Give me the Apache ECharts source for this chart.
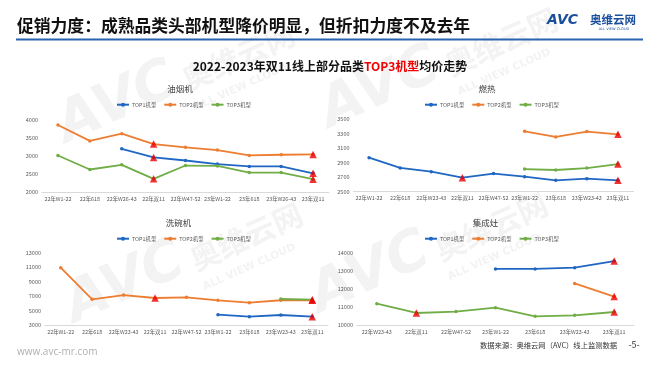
<!DOCTYPE html>
<html><head><meta charset="utf-8">
<script src="https://cdn.jsdelivr.net/npm/echarts@6/dist/echarts.min.js"></script>
<style>html,body{margin:0;padding:0;background:#fff}#c{width:660px;height:372px}</style>
</head><body><div id="c"></div>
<script>
const seriesNames = ['TOP1机型', 'TOP2机型', 'TOP3机型'];
const panelTitles = ['油烟机', '燃热', '洗碗机', '集成灶'];

const catsHood = ['22年W1-22','22年618','22年W26-43','22年双11','22年W47-52','23年W1-22','23年618','23年W26-43','23年双11'];
const catsHeater = ['22年W1-22','22年618','22年W23-43','22年双11','22年W47-52','23年W1-22','23年618','23年W23-43','23年双11'];
const catsDish = ['22年W1-22','22年618','22年W23-43','22年双11','22年W47-52','23年W1-22','23年618','23年W23-43','23年双11'];
const catsStove = ['22年W23-43','22年双11','22年W47-52','23年W1-22','23年618','23年W23-43','23年双11'];

const hoodTop1 = [null, null, 3200, 2960, 2875, 2775, 2710, 2710, 2520];
const hoodTop2 = [3860, 3420, 3620, 3330, 3240, 3165, 3015, 3035, 3045];
const hoodTop3 = [3015, 2625, 2755, 2365, 2735, 2725, 2540, 2540, 2355];
const hoodTicks = [2000, 2500, 3000, 3500, 4000];
const hoodMarks = [[3, 8], [3, 8], [3, 8]];

const heaterTop1 = [2970, 2828, 2776, 2694, 2750, 2707, 2657, 2680, 2657];
const heaterTop2 = [null, null, null, null, null, 3334, 3256, 3330, 3293];
const heaterTop3 = [null, null, null, null, null, 2813, 2800, 2827, 2882];
const heaterTicks = [2500, 2700, 2900, 3100, 3300, 3500];
const heaterMarks = [[3, 8], [8], [8]];

const dishTop1 = [null, null, null, null, null, 4470, 4190, 4420, 4190];
const dishTop2 = [10940, 6580, 7170, 6760, 6850, 6440, 6120, 6450, 6450];
const dishTop3 = [null, null, null, null, null, null, null, 6620, 6530];
const dishTicks = [3000, 5000, 7000, 9000, 11000, 13000];
const dishMarks = [[8], [3, 8], [8]];

const stoveTop1 = [null, null, null, 13100, 13100, 13170, 13540];
const stoveTop2 = [null, null, null, null, null, 12300, 11570];
const stoveTop3 = [11180, 10665, 10740, 10960, 10480, 10535, 10720];
const stoveTicks = [10000, 11000, 12000, 13000, 14000];
const stoveMarks = [[6], [6], [1, 6]];

const colors = ['#1f67c2', '#ed7d31', '#70ad47'];
const FONT = '"Noto Sans CJK SC", "Noto Sans", sans-serif';

const panels = [
  {cats: catsHood, data: [hoodTop1, hoodTop2, hoodTop3], ticks: hoodTicks, marks: hoodMarks,
   grid: {left: 42, top: 120, width: 287, height: 72}, tx: 180, ty: 89, lx: 116, ly: 102},
  {cats: catsHeater, data: [heaterTop1, heaterTop2, heaterTop3], ticks: heaterTicks, marks: heaterMarks,
   grid: {left: 353.5, top: 119.3, width: 280, height: 72.4}, tx: 487, ty: 89, lx: 424, ly: 102},
  {cats: catsDish, data: [dishTop1, dishTop2, dishTop3], ticks: dishTicks, marks: dishMarks,
   grid: {left: 45, top: 252.7, width: 283, height: 72.6}, tx: 178.5, ty: 223, lx: 116, ly: 236},
  {cats: catsStove, data: [stoveTop1, stoveTop2, stoveTop3], ticks: stoveTicks, marks: stoveMarks,
   grid: {left: 357, top: 252.7, width: 277, height: 72.3}, tx: 485.5, ty: 223, lx: 424, ly: 236}
];

const grid = [], xAxis = [], yAxis = [], series = [], legend = [], graphic = [];

// faint watermarks
function watermark(x, y) {
  return {
    type: 'group', x: x, y: y, rotation: 0.42, scaleX: 0.88, scaleY: 0.88, z: -10, silent: true,
    children: [
      {type: 'text', x: 0, y: 0, style: {text: 'AVC', fontSize: 64, fontWeight: 'bold', fontStyle: 'italic',
        fill: '#f3f3f3', fontFamily: '"DejaVu Sans", sans-serif', verticalAlign: 'bottom'}},
      {type: 'text', x: 150, y: -8, style: {text: '奥维云网', fontSize: 34, fontWeight: 'bold',
        fill: '#f3f3f3', fontFamily: FONT, verticalAlign: 'bottom'}},
      {type: 'text', x: 150, y: 2, style: {text: 'ALL VIEW CLOUD', fontSize: 12, fontWeight: 'bold',
        fill: '#f3f3f3', fontFamily: '"DejaVu Sans", sans-serif', verticalAlign: 'top'}}
    ]
  };
}
graphic.push(watermark(72, 155), watermark(335, 140), watermark(80, 335), watermark(325, 325));

panels.forEach((p, gi) => {
  grid.push(Object.assign({containLabel: false}, p.grid));
  xAxis.push({
    type: 'category', gridIndex: gi, data: p.cats, boundaryGap: true,
    axisLine: {lineStyle: {color: '#d9d9d9', width: 1}},
    axisTick: {show: false},
    axisLabel: {interval: 0, fontSize: 5.4, color: '#595959', margin: 4, fontFamily: FONT}
  });
  yAxis.push({
    type: 'value', gridIndex: gi, min: p.ticks[0], max: p.ticks[p.ticks.length - 1],
    axisLine: {show: false}, axisTick: {show: false}, splitLine: {show: false},
    axisLabel: {customValues: p.ticks, formatter: v => String(v), fontSize: 5.5, color: '#595959',
                margin: 4, fontFamily: FONT}
  });
  p.data.forEach((arr, si) => {
    series.push({
      name: seriesNames[si], type: 'line', xAxisIndex: gi, yAxisIndex: gi,
      data: arr, connectNulls: false, symbol: 'circle', symbolSize: 3.5,
      lineStyle: {width: 1.8, color: colors[si]}, itemStyle: {color: colors[si]},
      z: 2, animation: false
    });
  });
  const tri = [];
  p.marks.forEach((idxs, si) => {
    idxs.forEach(i => { tri.push([i, p.data[si][i]]); });
  });
  series.push({
    name: 'mark', type: 'scatter', xAxisIndex: gi, yAxisIndex: gi, data: tri,
    symbol: 'triangle', symbolSize: 7.5, itemStyle: {color: '#ee0000'}, z: 5, animation: false
  });
  legend.push({
    data: seriesNames, left: p.lx, top: p.ly, itemWidth: 12, itemHeight: 5, itemGap: 7,
    padding: 0, selectedMode: false,
    textStyle: {fontSize: 5.4, color: '#595959', fontFamily: FONT, padding: [0, 0, 0, -2]}
  });
  graphic.push({
    type: 'text', x: p.tx, y: p.ty,
    style: {text: panelTitles[gi], fontSize: 8.5, fill: '#404040', fontFamily: FONT,
            align: 'center', verticalAlign: 'middle'}
  });
});

// header and footer
graphic.push(
  {type: 'text', x: 17, y: 26, style: {text: '促销力度：成熟品类头部机型降价明显，但折扣力度不及去年',
    fontSize: 16.8, fontWeight: 'bold', fill: '#111', fontFamily: FONT, verticalAlign: 'middle'}},
  {type: 'line', shape: {x1: 16, y1: 39.5, x2: 643, y2: 39.5}, style: {stroke: '#2a63b0', lineWidth: 2}},
  {type: 'text', x: 547, y: 20.5, style: {text: 'AVC', fontSize: 14, fontWeight: 'bold', fontStyle: 'italic',
    fill: '#1a4f9e', fontFamily: '"DejaVu Sans", sans-serif', verticalAlign: 'middle'}},
  {type: 'text', x: 590, y: 19.5, style: {text: '奥维云网', fontSize: 11.5, fontWeight: 'bold',
    fill: '#1a4f9e', fontFamily: FONT, verticalAlign: 'middle'}},
  {type: 'text', x: 614, y: 29, style: {text: 'ALL VIEW CLOUD', fontSize: 3.6, fill: '#1a4f9e',
    fontFamily: '"DejaVu Sans", sans-serif', align: 'center', verticalAlign: 'middle'}},
  {type: 'text', x: 330, y: 66, style: {
    text: '{a|2022-2023年双11线上部分品类}{r|TOP3机型}{a|均价走势}', align: 'center', verticalAlign: 'middle',
    rich: {a: {fontSize: 12, fontWeight: 'bold', fill: '#111', fontFamily: FONT},
           r: {fontSize: 12, fontWeight: 'bold', fill: '#ee0000', fontFamily: FONT}}}},
  {type: 'text', x: 17, y: 352.5, style: {text: 'www.avc-mr.com', fontSize: 10, fill: '#b0b0b0',
    fontFamily: '"Open Sans", sans-serif', verticalAlign: 'middle'}},
  {type: 'text', x: 480, y: 345, style: {text: '数据来源：奥维云网（AVC）线上监测数据', fontSize: 7.3, fill: '#333',
    fontFamily: FONT, verticalAlign: 'middle'}},
  {type: 'text', x: 634, y: 345, style: {text: '-5-', fontSize: 9, fill: '#333',
    fontFamily: FONT, align: 'center', verticalAlign: 'middle'}}
);

const chart = echarts.init(document.getElementById('c'), null, {renderer: 'canvas'});
chart.setOption({
  animation: false, backgroundColor: '#fff', textStyle: {fontFamily: FONT},
  grid, xAxis, yAxis, series, legend, graphic
});
</script></body></html>
